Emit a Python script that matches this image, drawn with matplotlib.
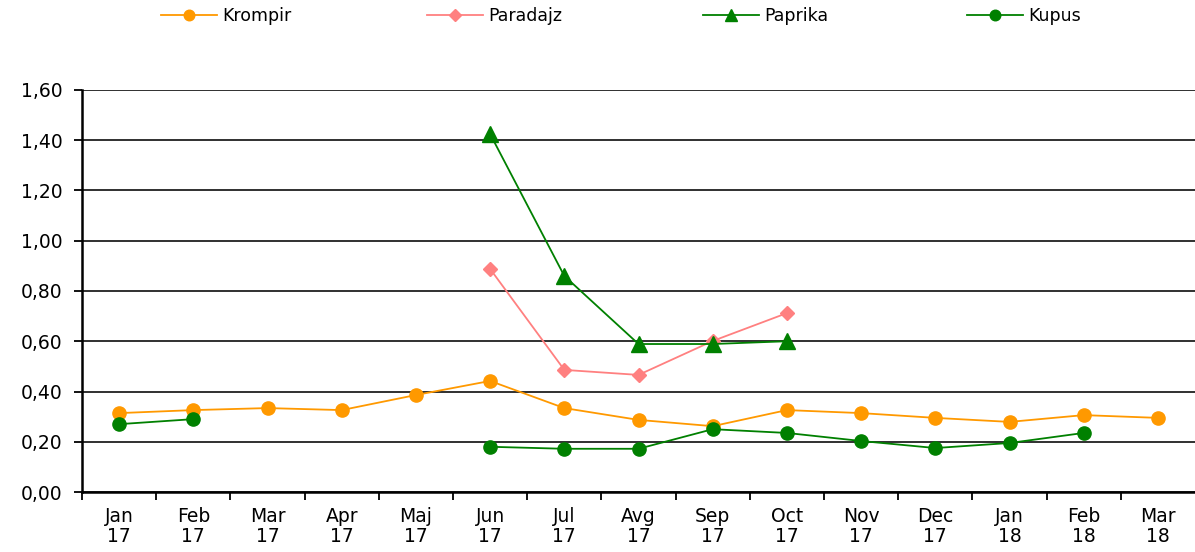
import numpy as np
import matplotlib
matplotlib.use("Agg")
import matplotlib.pyplot as plt
from matplotlib.ticker import FuncFormatter, FixedLocator

plt.rcParams["font.family"] = ["DejaVu Sans"]

nan = np.nan
months = ["Jan\n17", "Feb\n17", "Mar\n17", "Apr\n17", "Maj\n17", "Jun\n17", "Jul\n17",
          "Avg\n17", "Sep\n17", "Oct\n17", "Nov\n17", "Dec\n17", "Jan\n18", "Feb\n18", "Mar\n18"]
krompir = [0.314, 0.326, 0.334, 0.326, 0.386, 0.442, 0.334, 0.287, 0.262, 0.326,
           0.314, 0.295, 0.279, 0.306, 0.295]
paradajz = [nan, nan, nan, nan, nan, 0.888, 0.486, 0.466, 0.601, 0.712,
            nan, nan, nan, nan, nan]
paprika = [nan, nan, nan, nan, nan, 1.425, 0.86, 0.589, 0.589, 0.60,
           nan, nan, nan, nan, nan]
kupus = [0.27, 0.29, nan, nan, nan, 0.18, 0.172, 0.172, 0.25, 0.235,
         0.203, 0.175, 0.195, 0.235, nan]

W, H = 1195, 552
fig = plt.figure(figsize=(W / 100, H / 100), dpi=100)
ax = fig.add_axes([82 / W, 1 - 492 / H, 1 - 82 / W, (492 - 90) / H])
x = np.arange(len(months))

lines = []
lines += ax.plot(x, krompir, color="#FF9900", lw=1.3, marker="o", ms=9.5, label="Krompir")
lines += ax.plot(x, paradajz, color="#FF8080", lw=1.3, marker="D", ms=7.5, label="Paradajz")
lines += ax.plot(x, paprika, color="#008000", lw=1.3, marker="^", ms=11, label="Paprika")
lines += ax.plot(x, kupus, color="#008000", lw=1.3, marker="o", ms=9.5, label="Kupus")

ax.set_xlim(-0.5, len(months) - 0.5)
ax.set_ylim(0, 1.6)
ax.set_yticks(np.arange(0, 1.61, 0.2))
ax.yaxis.set_major_formatter(FuncFormatter(lambda v, p: f"{v:.2f}".replace(".", ",")))
ax.yaxis.grid(True, color="#202020", lw=1.3)
ax.set_axisbelow(True)

ax.xaxis.set_major_locator(FixedLocator(np.arange(-0.5, len(months) - 0.5, 1)))
ax.xaxis.set_minor_locator(FixedLocator(x))
ax.set_xticklabels([], minor=False)
ax.set_xticklabels(months, minor=True, linespacing=1.05)
ax.tick_params(axis="x", which="minor", length=0, pad=11, labelsize=13.5)
ax.tick_params(axis="x", which="major", length=6, width=1.3, color="black")
ax.tick_params(axis="y", length=6, width=1.3, labelsize=13.5, pad=8)

for s in ["top", "right"]:
    ax.spines[s].set_visible(False)
for s in ["left", "bottom"]:
    ax.spines[s].set_linewidth(1.8)
    ax.spines[s].set_color("black")

# legend entries placed one by one, like the original
legend_x = [161, 427, 703, 967]
for ln, lx in zip(lines, legend_x):
    fig.legend([ln], [ln.get_label()], loc="center left",
               bbox_to_anchor=(lx / W, 1 - 16 / H), frameon=False,
               fontsize=12.5, handlelength=3.2, handletextpad=0.3,
               borderpad=0, borderaxespad=0, markerscale=0.8)

fig.savefig("out.png", dpi=100)
